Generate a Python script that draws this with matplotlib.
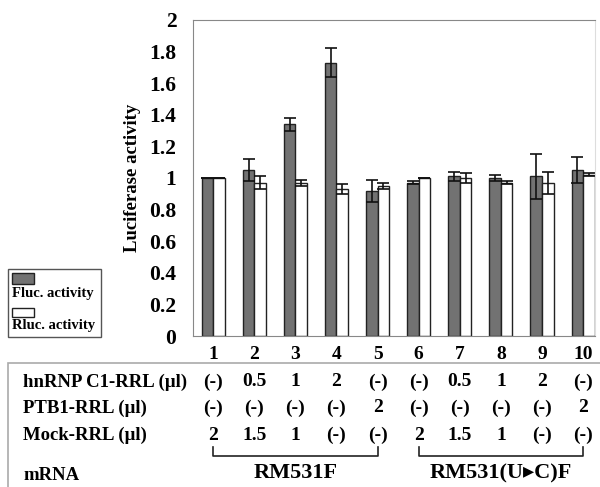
import numpy as np
import matplotlib
matplotlib.use('Agg')
import matplotlib.pyplot as plt
import matplotlib.transforms as mtransforms
from matplotlib.patches import Rectangle
from matplotlib.lines import Line2D

plt.rcParams['font.family'] = ['Liberation Serif', 'DejaVu Serif']
plt.rcParams['font.weight'] = 'bold'

# data
lanes = np.arange(1, 11)
fluc = [1.00, 1.05, 1.34, 1.73, 0.92, 0.97, 1.01, 1.00, 1.01, 1.05]
fluc_err = [0.0, 0.07, 0.04, 0.09, 0.07, 0.01, 0.03, 0.02, 0.14, 0.08]
rluc = [1.00, 0.97, 0.97, 0.93, 0.95, 1.00, 1.00, 0.97, 0.97, 1.02]
rluc_err = [0.0, 0.04, 0.02, 0.03, 0.02, 0.0, 0.03, 0.01, 0.07, 0.01]

row_names = ['hnRNP C1-RRL (µl)', 'PTB1-RRL (µl)', 'Mock-RRL (µl)']
hnrnp = ['(-)', '0.5', '1', '2', '(-)', '(-)', '0.5', '1', '2', '(-)']
ptb1 = ['(-)', '(-)', '(-)', '(-)', '2', '(-)', '(-)', '(-)', '(-)', '2']
mock = ['2', '1.5', '1', '(-)', '(-)', '2', '1.5', '1', '(-)', '(-)']
mrna_names = ['RM531F', 'RM531(U\u25b8C)F']
mrna_groups = [(1, 5), (6, 10)]

fig = plt.figure(figsize=(6, 4.87), dpi=100)
ax = fig.add_axes([0.3217, 0.310, 0.670, 0.649])

w = 0.28
ax.bar(lanes - w / 2, fluc, w, color='#727272', edgecolor='#222222', linewidth=1.0)
ax.bar(lanes + w / 2, rluc, w, color='white', edgecolor='#222222', linewidth=1.0)
ax.errorbar(lanes - w / 2, fluc, yerr=fluc_err, fmt='none', ecolor='#111111',
            elinewidth=1.2, capsize=4, capthick=1.2)
ax.errorbar(lanes + w / 2, rluc, yerr=rluc_err, fmt='none', ecolor='#111111',
            elinewidth=1.2, capsize=4, capthick=1.2)

ax.set_xlim(0.51, 10.29)
ax.set_ylim(0, 2)
ax.set_yticks(np.arange(0, 2.01, 0.2))
ax.set_yticklabels(['0', '0.2', '0.4', '0.6', '0.8', '1', '1.2', '1.4', '1.6', '1.8', '2'])
ax.set_xticks(lanes)
ax.set_xticklabels([str(i) for i in lanes])
ax.tick_params(axis='both', length=0)
ax.tick_params(axis='y', pad=12, labelsize=15.5)
ax.tick_params(axis='x', pad=7, labelsize=14)
ax.set_ylabel('Luciferase activity', fontsize=13.5, fontweight='bold', labelpad=6)
for s in ['top', 'bottom', 'left']:
    ax.spines[s].set_color('#888888')
ax.spines['right'].set_color('#dddddd')

# legend box
fig.patches.append(Rectangle((8 / 600, 1 - 337 / 487), 93 / 600, 68 / 487,
                             transform=fig.transFigure, fill=False,
                             edgecolor='#555555', linewidth=1.0))
fig.patches.append(Rectangle((12 / 600, 1 - 284 / 487), 22 / 600, 11 / 487,
                             transform=fig.transFigure, facecolor='#727272',
                             edgecolor='#222222', linewidth=1.0))
fig.patches.append(Rectangle((12 / 600, 1 - 317 / 487), 22 / 600, 9 / 487,
                             transform=fig.transFigure, facecolor='white',
                             edgecolor='#222222', linewidth=1.0))
fig.text(12 / 600, 1 - 293 / 487, 'Fluc. activity', fontsize=10.5, va='center')
fig.text(12 / 600, 1 - 326 / 487, 'Rluc. activity', fontsize=10.5, va='center')

# table box under the chart
fig.patches.append(Rectangle((8 / 600, -0.1), 1.0, 1.1 - 363 / 487,
                             transform=fig.transFigure, fill=False,
                             edgecolor='#aaaaaa', linewidth=1.2))

trans = mtransforms.blended_transform_factory(ax.transData, fig.transFigure)
row_y = [1 - 382 / 487, 1 - 408 / 487, 1 - 435 / 487]
for name, vals, y in zip(row_names, [hnrnp, ptb1, mock], row_y):
    fig.text(23 / 600, y, name, fontsize=13.5, va='center')
    for x, v in zip(lanes, vals):
        ax.text(x, y, v, transform=trans, fontsize=14, ha='center', va='center')

fig.text(23 / 600, 1 - 476 / 487, 'mRNA', fontsize=13.5, va='center')
y_top = 1 - 447 / 487
y_bot = 1 - 456 / 487
for (a, b), name in zip(mrna_groups, mrna_names):
    ax.add_line(Line2D([a, a, b, b], [y_top, y_bot, y_bot, y_top], transform=trans,
                       color='#222222', linewidth=1.2, clip_on=False))
    ax.text((a + b) / 2, 1 - 473 / 487, name, transform=trans, fontsize=16,
            ha='center', va='center')

fig.savefig('out.png', dpi=100)
